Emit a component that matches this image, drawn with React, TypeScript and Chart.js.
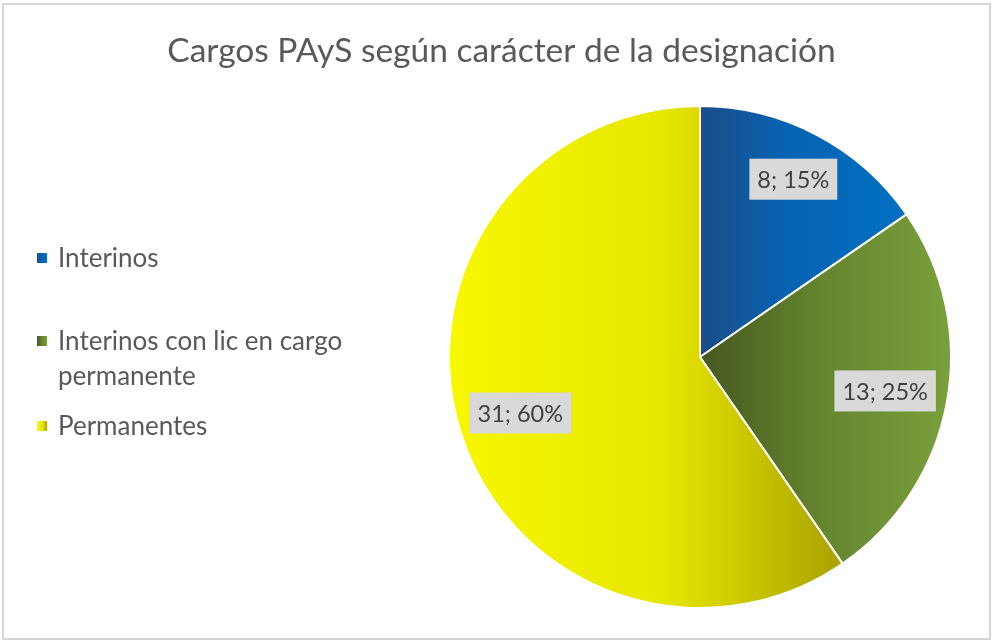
import React, { useEffect, useRef } from "react";
import { Chart, registerables } from "chart.js";

Chart.register(...registerables);

// ---- data ----
const TITLE = "Cargos PAyS según carácter de la designación";
const categories = ["Interinos", "Interinos con lic en cargo permanente", "Permanentes"];
const values = [8, 13, 31];

// ---- styles ----
const FONT = "Lato, 'Open Sans', sans-serif";
const SLICE_GRADIENTS: [number, string][][] = [
  [[0, "#1a4d86"], [0.4, "#0862b2"], [1, "#0070c4"]],
  [[0, "#46581f"], [0.5, "#66862f"], [1, "#7aa03c"]],
  [[0, "#f8f800"], [0.55, "#e6e600"], [1, "#a9a100"]],
];
const LEGEND_ROW_Y = [258, 341, 426];

function sliceBounds(chart: any, index: number): [number, number] {
  const area = chart.chartArea;
  const cx = (area.left + area.right) / 2;
  const r = Math.min(area.width, area.height) / 2;
  const data = chart.data.datasets[0].data as number[];
  const total = data.reduce((a, b) => a + b, 0);
  let acc = 0;
  for (let k = 0; k < index; k++) acc += data[k];
  const a0 = -Math.PI / 2 + (acc / total) * 2 * Math.PI;
  const a1 = a0 + (data[index] / total) * 2 * Math.PI;
  const xs = [cx, cx + r * Math.cos(a0), cx + r * Math.cos(a1)];
  for (const t of [0, Math.PI, 2 * Math.PI]) if (t > a0 && t < a1) xs.push(cx + r * Math.cos(t));
  return [Math.min(...xs), Math.max(...xs)];
}

function makeGradient(c: CanvasRenderingContext2D, x0: number, x1: number, stops: [number, string][]) {
  const g = c.createLinearGradient(x0, 0, x1, 0);
  stops.forEach(([o, col]) => g.addColorStop(o, col));
  return g;
}

function fitSize(c: CanvasRenderingContext2D, text: string, target: number) {
  c.font = `100px ${FONT}`;
  const w = c.measureText(text).width;
  return Math.round((100 * target) / w * 2) / 2;
}

function wrap(c: CanvasRenderingContext2D, text: string, maxW: number) {
  const words = text.split(" ");
  const lines: string[] = [];
  let cur = "";
  for (const w of words) {
    const t = cur ? cur + " " + w : w;
    if (c.measureText(t).width > maxW && cur) {
      lines.push(cur);
      cur = w;
    } else cur = t;
  }
  if (cur) lines.push(cur);
  return lines;
}

const decorPlugin = {
  id: "decor",
  beforeDraw(chart: any) {
    const c: CanvasRenderingContext2D = chart.ctx;
    c.save();
    c.fillStyle = "#ffffff";
    c.fillRect(0, 0, chart.width, chart.height);
    c.strokeStyle = "#d6d6d6";
    c.lineWidth = 2;
    c.strokeRect(3, 4, 987, 635);
    // title
    const ts = fitSize(c, TITLE, 673);
    c.font = `${ts}px ${FONT}`;
    c.fillStyle = "#595959";
    c.textAlign = "center";
    c.textBaseline = "alphabetic";
    c.fillText(TITLE, 501.5, 62);
    // legend
    const ls = fitSize(c, "Interinos con lic en cargo", 282);
    c.font = `${ls}px ${FONT}`;
    c.textAlign = "left";
    c.textBaseline = "middle";
    categories.forEach((label, i) => {
      const lines = wrap(c, label, 300);
      const y0 = LEGEND_ROW_Y[i];
      c.fillStyle = makeGradient(c, 37, 47, SLICE_GRADIENTS[i]);
      c.fillRect(37, y0 - 5, 10, 10);
      c.fillStyle = "#595959";
      lines.forEach((ln, j) => c.fillText(ln, 58, y0 + j * 35 + 1));
    });
    c.restore();
  },
  afterDatasetsDraw(chart: any) {
    const c: CanvasRenderingContext2D = chart.ctx;
    const meta = chart.getDatasetMeta(0);
    const data = chart.data.datasets[0].data as number[];
    const total = data.reduce((a, b) => a + b, 0);
    c.save();
    const fs = fitSize(c, "13; 25%", 86);
    c.font = `${fs}px ${FONT}`;
    c.textAlign = "center";
    c.textBaseline = "middle";
    meta.data.forEach((arc: any, i: number) => {
      const p = arc.getProps(["x", "y", "startAngle", "endAngle", "outerRadius"], true);
      const mid = (p.startAngle + p.endAngle) / 2;
      const share = data[i] / total;
      const k = share < 0.2 ? 0.8 : 0.75;
      const px = p.x + Math.cos(mid) * p.outerRadius * k;
      const py = p.y + Math.sin(mid) * p.outerRadius * k;
      const text = `${data[i]}; ${Math.round(share * 100)}%`;
      const w = c.measureText(text).width + 16;
      const h = 41;
      c.fillStyle = "#d9d9d9";
      c.fillRect(px - w / 2, py - h / 2, w, h);
      c.fillStyle = "#404040";
      c.fillText(text, px, py + 1);
    });
    c.restore();
  },
};

export default function App() {
  const ref = useRef<HTMLCanvasElement | null>(null);
  useEffect(() => {
    document.body.style.margin = "0";
    if (!ref.current) return;
    const chart = new Chart(ref.current, {
      type: "pie",
      data: {
        labels: categories,
        datasets: [
          {
            data: values,
            backgroundColor: (ctx: any) => {
              const chart = ctx.chart;
              const i = ctx.dataIndex ?? 0;
              if (!chart.chartArea) return SLICE_GRADIENTS[i][1][1];
              const [x0, x1] = sliceBounds(chart, i);
              return makeGradient(chart.ctx, x0, x1, SLICE_GRADIENTS[i]);
            },
            borderColor: "#ffffff",
            borderWidth: 2,
            hoverOffset: 0,
          },
        ],
      },
      options: {
        animation: false,
        responsive: false,
        events: [],
        layout: { padding: { left: 448, right: 45, top: 105, bottom: 33 } },
        plugins: {
          legend: { display: false },
          title: { display: false },
          tooltip: { enabled: false },
        },
      },
      plugins: [decorPlugin],
    });
    return () => chart.destroy();
  }, []);
  return (
    <div style={{ position: "absolute", left: 0, top: 0, width: 997, height: 642 }}>
      <canvas ref={ref} width={997} height={642} style={{ width: 997, height: 642 }} />
    </div>
  );
}
